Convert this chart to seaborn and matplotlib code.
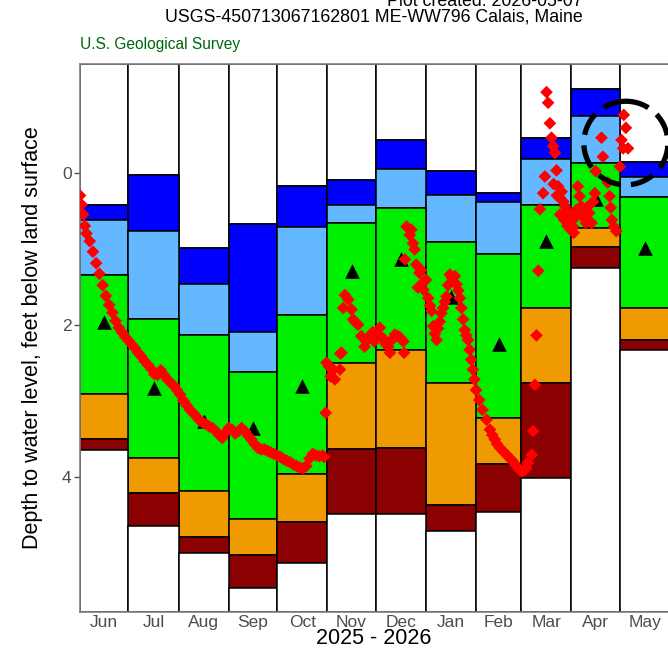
import pandas as pd
import matplotlib.pyplot as plt
import seaborn as sns
import numpy as np
from matplotlib.patches import Ellipse

# --- data ---
MONTHS = ['Jun', 'Jul', 'Aug', 'Sep', 'Oct', 'Nov', 'Dec', 'Jan', 'Feb', 'Mar', 'Apr', 'May']
START = '2025-06-01'

# percentile class edges per month, depth below land surface (ft), shallow -> deep
edge_highest = [0.43, 0.03, 0.99, 0.68, 0.17, 0.09, -0.43, -0.02, 0.27, -0.45, -1.10, -0.14]
edge_p90 = [0.62, 0.77, 1.46, 2.09, 0.71, 0.42, -0.05, 0.30, 0.39, -0.18, -0.74, 0.06]
edge_p75 = [1.34, 1.92, 2.14, 2.62, 1.87, 0.66, 0.46, 0.91, 1.07, 0.42, -0.13, 0.32]
edge_p25 = [2.91, 3.75, 4.19, 4.55, 3.97, 2.50, 2.33, 2.77, 3.23, 1.78, 0.73, 1.78]
edge_p10 = [3.50, 4.21, 4.79, 5.03, 4.60, 3.64, 3.62, 4.37, 3.83, 2.77, 0.98, 2.20]
edge_lowest = [3.65, 4.65, 5.00, 5.46, 5.14, 4.49, 4.49, 4.71, 4.46, 4.02, 1.25, 2.33]

# monthly median of the current year
median_depth = [1.97, 2.83, 3.27, 3.36, 2.81, 1.29, 1.14, 1.64, 2.26, 0.90, 0.35, 0.99]

# daily values: days since 2025-06-01, depth (ft)
obs_day = [0, 1, 2, 3, 4, 6, 8, 10, 12, 14, 16, 18, 20, 22, 24, 26, 28, 30, 32, 34,
           36, 38, 40, 42, 44, 46, 48, 50, 52, 54, 56, 58, 60, 62, 64, 66, 68, 70, 72, 74,
           76, 78, 80, 82, 84, 86, 88, 90, 92, 94, 96, 98, 100, 102, 104, 106, 108, 110, 112, 114,
           116, 118, 120, 122, 124, 126, 128, 130, 132, 134, 136, 138, 140, 142, 144, 146, 148, 150, 151,
           152, 152.5, 154, 155, 156.7, 157.7, 160.8, 161, 161.8, 162.8, 163.9, 166, 168, 169, 170.5, 172,
           174, 176, 177, 179, 181, 182, 184, 185.5, 187.6, 189, 190.7, 191.7, 193, 194.8, 196.9, 198.5,
           200, 200.5,
           201, 202, 204, 205, 206, 207, 208, 209, 210, 211, 212, 212.5, 214, 215.4,
           216.5, 217.5, 218.5, 219.5, 220.6, 221.5, 222.6, 223.5, 224.7, 225.7, 226.7, 227.7, 228.8, 230,
           231.9, 233, 234, 235, 236, 237, 238, 239, 240, 241, 242, 243, 244, 245, 247, 249, 251.5, 253.6,
           255, 256.6, 258, 259.7, 262, 263.9, 265.5, 267, 268.5, 270, 271.5, 273, 274.5, 276, 277,
           279.5, 280.3, 281.4, 282.4, 283.5, 284.5, 286.5, 287.6, 288.6, 289.6, 290.7, 291.7, 292.7, 293,
           293.8, 294.8, 295, 295.8, 296.8, 297, 298, 299, 299.5, 300, 301, 301.5, 302, 303, 303.5, 304,
           305, 305.5, 306, 307, 308, 309, 310, 311, 312, 313, 314, 315, 316.5, 317.5, 318.5, 319,
           322.6, 323.5, 326.5, 327.6, 328.3, 329, 330.3, 331.8, 334,
           335, 336, 336.4, 337.7, 339]
obs_depth = [0.30, 0.42, 0.55, 0.70, 0.80, 0.90, 1.04, 1.19, 1.33, 1.48, 1.62, 1.74, 1.84, 1.95, 2.04, 2.10, 2.16, 2.21, 2.26, 2.31,
             2.37, 2.42, 2.48, 2.53, 2.58, 2.65, 2.66, 2.60, 2.66, 2.72, 2.76, 2.80, 2.86, 2.92, 3.00, 3.06, 3.12, 3.16, 3.21, 3.26,
             3.29, 3.31, 3.34, 3.36, 3.40, 3.45, 3.49, 3.42, 3.36, 3.38, 3.43, 3.40, 3.36, 3.40, 3.46, 3.51, 3.57, 3.62, 3.64, 3.64,
             3.66, 3.68, 3.70, 3.72, 3.74, 3.77, 3.79, 3.81, 3.84, 3.86, 3.88, 3.89, 3.86, 3.76, 3.70, 3.72, 3.73, 3.72, 3.74,
             3.16, 2.50, 2.55, 2.68, 2.59, 2.72, 2.59, 2.38, 2.37, 1.78, 1.61, 1.67, 1.80, 1.93, 1.97, 2.00,
             2.15, 2.29, 2.22, 2.15, 2.10, 2.22, 2.12, 2.04, 2.18, 2.25, 2.29, 2.37, 2.20, 2.13, 2.15, 2.18,
             2.22, 2.37,
             1.14, 0.71, 0.82, 0.75, 0.93, 1.01, 1.21, 1.51, 1.32, 1.28, 1.45, 1.54, 1.41, 1.65,
             1.75, 1.82, 2.02, 2.12, 2.20, 2.05, 1.96, 1.85, 1.78, 1.70, 1.63, 1.48, 1.34, 1.38,
             1.36, 1.47, 1.55, 1.65, 1.78, 1.93, 2.07, 2.14, 2.20, 2.33, 2.46, 2.59, 2.72, 2.86, 2.99, 3.12, 3.25, 3.38,
             3.45, 3.51, 3.57, 3.62, 3.67, 3.71, 3.75, 3.78, 3.82, 3.86, 3.90, 3.93, 3.92, 3.89, 3.82,
             3.71, 3.40, 2.79, 2.14, 1.29, 0.48, 0.27, 0.05, -1.06, -0.92, -0.65, -0.46, -0.35, 0.15,
             -0.26, -0.03, 0.30, 0.18, 0.33, 0.55, 0.25, 0.38, 0.62, 0.44, 0.50, 0.70, 0.55, 0.60, 0.75, 0.62,
             0.71, 0.79, 0.60, 0.49, 0.18, 0.31, 0.44, 0.58, 0.55, 0.66, 0.45, 0.53, 0.66, 0.38, 0.27, -0.02,
             -0.46, -0.21, 0.13, 0.31, 0.46, 0.62, 0.71, 0.77, -0.08,
             -0.43, -0.32, -0.76, -0.59, -0.32]

# latest value marker
latest_day = 337.7
latest_depth = -0.39

# --- style ---
CLASS_COLORS = ['white', '#0000FF', '#63B8FF', '#00EE00', '#EE9A00', '#8B0000', 'white']
Y_TOP, Y_BOTTOM = -1.43, 5.78
GRAY = '#4D4D4D'


def main():
    sns.set_style('white')
    plt.rcParams['font.family'] = ['Liberation Sans', 'DejaVu Sans']

    starts = pd.date_range(START, periods=13, freq='MS')
    offs = np.array([(d - pd.Timestamp(START)).days for d in starts])
    widths = np.diff(offs)
    mids = offs[:-1] + widths / 2

    fig = plt.figure(figsize=(6.68, 6.49), dpi=100)
    ax = fig.add_axes([80 / 668, 1 - 612 / 649, 590 / 668, 548 / 649])

    # stacked percentile boxes
    edges = np.array([edge_highest, edge_p90, edge_p75, edge_p25, edge_p10, edge_lowest])
    tops = np.vstack([np.full(12, Y_TOP), edges])
    bottoms = np.vstack([edges, np.full(12, Y_BOTTOM)])
    for k in range(7):
        ax.bar(offs[:-1], bottoms[k] - tops[k], bottom=tops[k], width=widths, align='edge',
               color=CLASS_COLORS[k], edgecolor='black', linewidth=1.1, zorder=1)

    med = pd.DataFrame({'day': mids, 'depth': median_depth})
    sns.scatterplot(data=med, x='day', y='depth', marker='^', s=110, color='black',
                    edgecolor='black', linewidth=0, ax=ax, zorder=3)

    daily = pd.DataFrame({'day': obs_day, 'depth': obs_depth})
    sns.scatterplot(data=daily, x='day', y='depth', marker='D', s=42, color='#FF0000',
                    edgecolor='none', linewidth=0, ax=ax, zorder=4)

    ring = Ellipse((latest_day, latest_depth), width=52, height=1.1, fill=False,
                   edgecolor='black', linewidth=3.8, linestyle=(0, (4.5, 2)), zorder=5)
    ax.add_patch(ring)

    ax.set_xlim(0, offs[-1])
    ax.set_ylim(Y_BOTTOM, Y_TOP)
    ax.set_xticks(mids)
    ax.set_xticklabels(MONTHS, fontsize=12.5, color=GRAY)
    ax.set_yticks([0, 2, 4])
    ax.set_yticklabels(['0', '2', '4'], fontsize=12.5, color=GRAY)
    ax.tick_params(axis='x', length=0, pad=2)
    ax.tick_params(axis='y', length=4, width=1, color=GRAY, pad=2, left=True)
    ax.set_xlabel('')
    ax.set_ylabel('')
    for side in ['left', 'bottom', 'top']:
        ax.spines[side].set_color('#7F7F7F')
        ax.spines[side].set_linewidth(1.2)
    ax.spines['right'].set_visible(False)

    fig.text(374 / 668, 1 - 639 / 649, '2025 - 2026', ha='center', va='center',
             fontsize=15.5, color='black')
    fig.text(33 / 668, 1 - 338 / 649, 'Depth to water level, feet below land surface',
             rotation=90, ha='center', va='center', fontsize=15.5, color='black')
    fig.text(374 / 668, 1 - 17 / 649, 'USGS-450713067162801 ME-WW796 Calais, Maine',
             ha='center', va='center', fontsize=12.8, color='black')
    # only the lower part of this line is visible in the original
    fig.text(387 / 668, 1 - 6 / 649, 'Plot created: 2026-05-07', ha='left', va='baseline',
             fontsize=12.8, color='black')
    fig.text(80 / 668, 1 - 45 / 649, 'U.S. Geological Survey', ha='left', va='center',
             fontsize=11.2, color='#00660A')

    fig.savefig('out.png', dpi=100)


if __name__ == '__main__':
    main()
